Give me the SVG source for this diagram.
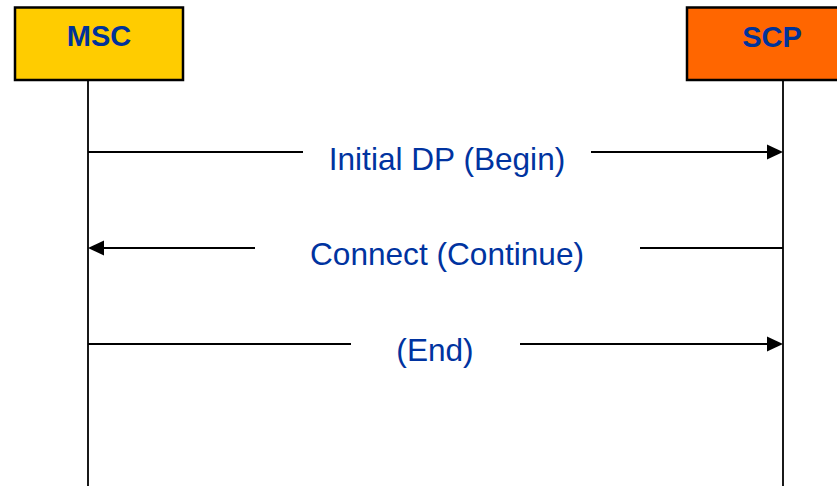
<svg xmlns="http://www.w3.org/2000/svg" width="837" height="486" viewBox="0 0 837 486">
<style>
.box{stroke:#000;stroke-width:2.5}
.title{font-family:"Liberation Sans",Arial,sans-serif;font-weight:bold;font-size:29px;fill:#003399;text-anchor:middle}
.lbl{font-family:"Liberation Sans",Arial,sans-serif;font-size:31.6px;fill:#0033A0;text-anchor:middle}
.life{stroke:#000;stroke-width:1.8;fill:none}
.msg{stroke:#000;stroke-width:2;fill:none}
.head{fill:#000}
</style>
<rect width="837" height="486" fill="#fff"/>
<g id="lifelines">
<line class="life" x1="88" y1="80" x2="88" y2="486"/>
<line class="life" x1="783" y1="80" x2="783" y2="486"/>
</g>
<g id="MSC">
<rect class="box" x="15" y="7.5" width="168" height="72.5" fill="#FFCC00"/>
<text class="title" x="99" y="46">MSC</text>
</g>
<g id="SCP">
<rect class="box" x="687" y="7.5" width="170" height="72.5" fill="#FF6600"/>
<text class="title" x="772" y="46.5">SCP</text>
</g>
<g id="connectors">
<line class="msg" x1="88" y1="152" x2="303" y2="152"/>
<line class="msg" x1="591" y1="152" x2="770" y2="152"/>
<polygon class="head" points="767,144.5 783,152 767,159.5"/>
<line class="msg" x1="101" y1="248" x2="255" y2="248"/>
<line class="msg" x1="640" y1="248" x2="783" y2="248"/>
<polygon class="head" points="104,240.5 88,248 104,255.5"/>
<line class="msg" x1="88" y1="344" x2="351" y2="344"/>
<line class="msg" x1="520" y1="344" x2="770" y2="344"/>
<polygon class="head" points="767,336.5 783,344 767,351.5"/>
</g>
<g id="labels">
<text class="lbl" x="447" y="169.5">Initial DP (Begin)</text>
<text class="lbl" x="447" y="265">Connect (Continue)</text>
<text class="lbl" x="435" y="361">(End)</text>
</g>
</svg>
